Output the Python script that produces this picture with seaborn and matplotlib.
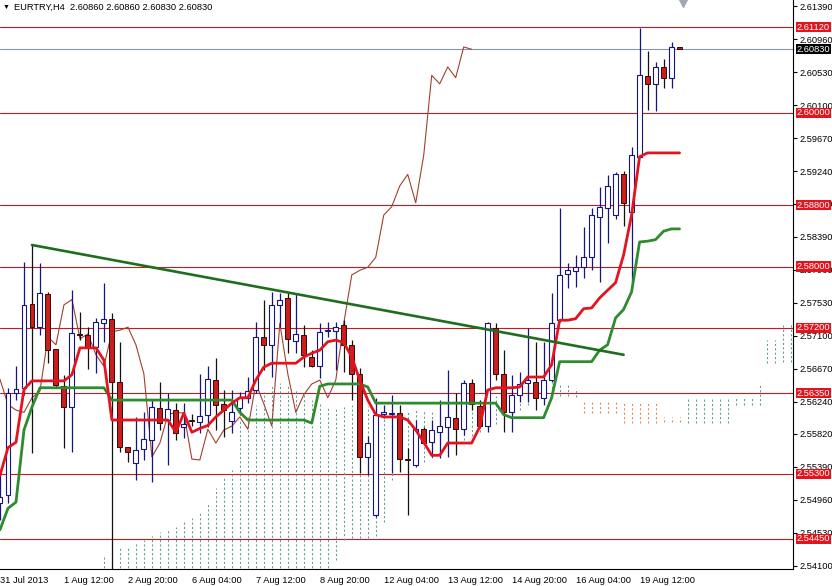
import matplotlib
matplotlib.use("Agg")
import matplotlib.pyplot as plt
import numpy as np
import pandas as pd
import seaborn as sns

# EURTRY H4 candles, numbered from the first bar on screen (31 Jul 2013).
opens = [2.5492, 2.5502, 2.5635, 2.5642, 2.5751, 2.5721, 2.5764, 2.5692, 2.5644, 2.5617,
         2.5712, 2.5711, 2.5695, 2.5726, 2.5732, 2.5650, 2.5565, 2.5544, 2.5562, 2.5574,
         2.5616, 2.5600, 2.5613, 2.5591, 2.5600, 2.5597, 2.5607, 2.5652, 2.5621, 2.5599,
         2.5616, 2.5629, 2.5639, 2.5708, 2.5698, 2.5750, 2.5759, 2.5703, 2.5711, 2.5682,
         2.5670, 2.5716, 2.5716, 2.5724, 2.5698, 2.5660, 2.5552, 2.5476, 2.5608, 2.5608,
         2.5609, 2.5549, 2.5541, 2.5588, 2.5571, 2.5584, 2.5591, 2.5603, 2.5588, 2.5648,
         2.5618, 2.5592, 2.5720, 2.5660, 2.5610, 2.5633, 2.5648, 2.5650, 2.5629, 2.5652,
         2.5730, 2.5790, 2.5794, 2.5799, 2.5812, 2.5865, 2.5876, 2.5867, 2.5920, 2.5871,
         2.5943, 2.6048, 2.6038, 2.6060, 2.6046, 2.6086]
highs = [2.5535, 2.5642, 2.5670, 2.5806, 2.5828, 2.5804, 2.5767, 2.5692, 2.5659, 2.5770,
         2.5741, 2.5721, 2.5733, 2.5779, 2.5739, 2.5701, 2.5565, 2.5604, 2.5610, 2.5626,
         2.5650, 2.5635, 2.5622, 2.5622, 2.5608, 2.5660, 2.5670, 2.5681, 2.5639, 2.5639,
         2.5636, 2.5656, 2.5728, 2.5756, 2.5767, 2.5766, 2.5767, 2.5766, 2.5724, 2.5691,
         2.5726, 2.5728, 2.5728, 2.5730, 2.5704, 2.5668, 2.5579, 2.5629, 2.5620, 2.5633,
         2.5620, 2.5564, 2.5600, 2.5591, 2.5600, 2.5626, 2.5665, 2.5635, 2.5652, 2.5653,
         2.5626, 2.5728, 2.5726, 2.5691, 2.5659, 2.5663, 2.5720, 2.5701, 2.5702, 2.5766,
         2.5876, 2.5804, 2.5815, 2.5852, 2.5876, 2.5904, 2.5919, 2.5923, 2.5924, 2.5956,
         2.6111, 2.6081, 2.6066, 2.6070, 2.6092, 2.6086]
lows = [2.5470, 2.5492, 2.5626, 2.5633, 2.5557, 2.5711, 2.5674, 2.5643, 2.5564, 2.5558,
        2.5704, 2.5666, 2.5661, 2.5701, 2.5395, 2.5558, 2.5545, 2.5522, 2.5548, 2.5519,
        2.5587, 2.5541, 2.5574, 2.5577, 2.5592, 2.5583, 2.5591, 2.5587, 2.5578, 2.5583,
        2.5607, 2.5622, 2.5635, 2.5665, 2.5656, 2.5721, 2.5687, 2.5687, 2.5669, 2.5669,
        2.5655, 2.5708, 2.5665, 2.5663, 2.5626, 2.5531, 2.5528, 2.5474, 2.5603, 2.5531,
        2.5532, 2.5476, 2.5539, 2.5569, 2.5552, 2.5550, 2.5552, 2.5554, 2.5580, 2.5613,
        2.5589, 2.5584, 2.5652, 2.5584, 2.5584, 2.5623, 2.5623, 2.5613, 2.5620, 2.5650,
        2.5728, 2.5772, 2.5773, 2.5785, 2.5795, 2.5780, 2.5831, 2.5862, 2.5853, 2.5780,
        2.5943, 2.6004, 2.6003, 2.6033, 2.6033, 2.6083]
closes = [2.5500, 2.5635, 2.5640, 2.5750, 2.5721, 2.5766, 2.5691, 2.5646, 2.5617, 2.5713,
          2.5711, 2.5694, 2.5728, 2.5732, 2.5650, 2.5565, 2.5558, 2.5561, 2.5575, 2.5617,
          2.5596, 2.5614, 2.5583, 2.5595, 2.5599, 2.5605, 2.5653, 2.5620, 2.5613, 2.5610,
          2.5629, 2.5638, 2.5708, 2.5698, 2.5750, 2.5757, 2.5706, 2.5712, 2.5685, 2.5670,
          2.5715, 2.5717, 2.5721, 2.5698, 2.5660, 2.5552, 2.5570, 2.5607, 2.5610, 2.5609,
          2.5549, 2.5548, 2.5588, 2.5570, 2.5587, 2.5592, 2.5604, 2.5588, 2.5648, 2.5621,
          2.5592, 2.5726, 2.5660, 2.5610, 2.5633, 2.5647, 2.5652, 2.5629, 2.5652, 2.5726,
          2.5789, 2.5795, 2.5799, 2.5812, 2.5867, 2.5878, 2.5905, 2.5920, 2.5883, 2.5945,
          2.6049, 2.6038, 2.6060, 2.6046, 2.6086, 2.6083]

# Ichimoku lines
tenkan = [2.5528, 2.5564, 2.5571, 2.5640, 2.5651, 2.5651, 2.5651, 2.5651, 2.5651, 2.5659,
          2.5694, 2.5694, 2.5694, 2.5678, 2.5600, 2.5600, 2.5600, 2.5600, 2.5600, 2.5600,
          2.5600, 2.5600, 2.5584, 2.5609, 2.5584, 2.5589, 2.5593, 2.5604, 2.5613, 2.5622,
          2.5629, 2.5629, 2.5652, 2.5669, 2.5674, 2.5674, 2.5674, 2.5674, 2.5682, 2.5687,
          2.5691, 2.5702, 2.5704, 2.5701, 2.5682, 2.5652, 2.5626, 2.5607, 2.5604, 2.5604,
          2.5604, 2.5600, 2.5587, 2.5571, 2.5554, 2.5554, 2.5570, 2.5570, 2.5570, 2.5570,
          2.5591, 2.5639, 2.5642, 2.5642, 2.5642, 2.5643, 2.5656, 2.5656, 2.5656, 2.5672,
          2.5730, 2.5730, 2.5732, 2.5745, 2.5746, 2.5759, 2.5769, 2.5779, 2.5815, 2.5867,
          2.5943, 2.5948, 2.5948, 2.5948, 2.5948, 2.5948]
kijun = [2.5457, 2.5485, 2.5493, 2.5587, 2.5617, 2.5642, 2.5642, 2.5642, 2.5642, 2.5642,
         2.5642, 2.5642, 2.5642, 2.5642, 2.5626, 2.5626, 2.5626, 2.5626, 2.5626, 2.5626,
         2.5626, 2.5626, 2.5626, 2.5626, 2.5626, 2.5626, 2.5626, 2.5626, 2.5626, 2.5626,
         2.5610, 2.5600, 2.5600, 2.5600, 2.5600, 2.5600, 2.5600, 2.5600, 2.5600, 2.5596,
         2.5644, 2.5647, 2.5647, 2.5647, 2.5647, 2.5647, 2.5643, 2.5622, 2.5622, 2.5622,
         2.5622, 2.5622, 2.5622, 2.5622, 2.5622, 2.5622, 2.5622, 2.5622, 2.5622, 2.5622,
         2.5622, 2.5622, 2.5622, 2.5607, 2.5603, 2.5603, 2.5603, 2.5603, 2.5603, 2.5629,
         2.5676, 2.5676, 2.5676, 2.5676, 2.5676, 2.5691, 2.5698, 2.5733, 2.5744, 2.5767,
         2.5832, 2.5833, 2.5835, 2.5846, 2.5849, 2.5849]
chikou_shift = 26

# Senkou spans (already shifted forward), starting under bar 13
cloud_start = 13
span_a = [2.5424, 2.5428, 2.5433, 2.5436, 2.5440, 2.5444, 2.5449, 2.5454, 2.5457, 2.5461,
          2.5467, 2.5472, 2.5480, 2.5492, 2.5511, 2.5527, 2.5535, 2.5600, 2.5607, 2.5620,
          2.5636, 2.5646, 2.5648, 2.5644, 2.5639, 2.5633, 2.5626, 2.5621, 2.5618, 2.5616,
          2.5617, 2.5620, 2.5620, 2.5618, 2.5617, 2.5613, 2.5610, 2.5612, 2.5613, 2.5613,
          2.5613, 2.5613, 2.5614, 2.5616, 2.5617, 2.5620, 2.5622, 2.5626, 2.5629, 2.5631,
          2.5634, 2.5639, 2.5644, 2.5647, 2.5648, 2.5648, 2.5648, 2.5647, 2.5646, 2.5642,
          2.5609, 2.5609, 2.5609, 2.5609, 2.5609, 2.5596, 2.5596, 2.5596, 2.5596, 2.5596,
          2.5597, 2.5597, 2.5597, 2.5630, 2.5630, 2.5630, 2.5630, 2.5630, 2.5630, 2.5630,
          2.5630, 2.5630, 2.5648, 2.5704, 2.5704, 2.5724, 2.5726]
span_b = [2.5390, 2.5390, 2.5390, 2.5390, 2.5390, 2.5390, 2.5390, 2.5390, 2.5390, 2.5390,
          2.5390, 2.5390, 2.5390, 2.5390, 2.5390, 2.5390, 2.5390, 2.5390, 2.5390, 2.5390,
          2.5390, 2.5390, 2.5390, 2.5390, 2.5390, 2.5390, 2.5390, 2.5390, 2.5390, 2.5418,
          2.5444, 2.5446, 2.5446, 2.5446, 2.5449, 2.5467, 2.5522, 2.5535, 2.5539, 2.5541,
          2.5545, 2.5550, 2.5554, 2.5561, 2.5567, 2.5574, 2.5579, 2.5584, 2.5589, 2.5595,
          2.5600, 2.5607, 2.5613, 2.5620, 2.5626, 2.5629, 2.5630, 2.5631, 2.5631, 2.5630,
          2.5626, 2.5626, 2.5626, 2.5626, 2.5626, 2.5622, 2.5622, 2.5622, 2.5622, 2.5622,
          2.5604, 2.5604, 2.5604, 2.5596, 2.5596, 2.5596, 2.5596, 2.5596, 2.5596, 2.5620,
          2.5620, 2.5620, 2.5620, 2.5674, 2.5674, 2.5675, 2.5675]

# Hand-drawn trend line (bar, price) and horizontal levels
trend_bars = [4, 78]
trend_prices = [2.5828, 2.5685]
levels = [2.6112, 2.6000, 2.5880, 2.5800, 2.5720, 2.5635, 2.5530, 2.5445]
last_price = 2.6083

price_ticks = [2.61390, 2.60960, 2.60530, 2.60100, 2.59670, 2.59240, 2.58820, 2.58390,
               2.57960, 2.57530, 2.57100, 2.56670, 2.56240, 2.55820, 2.55390, 2.54960,
               2.54530, 2.54100]
date_ticks = [0, 8, 16, 24, 32, 40, 48, 56, 64, 72, 80]
date_labels = ["31 Jul 2013", "1 Aug 12:00", "2 Aug 20:00", "6 Aug 04:00", "7 Aug 12:00",
               "8 Aug 20:00", "12 Aug 04:00", "13 Aug 12:00", "14 Aug 20:00",
               "16 Aug 04:00", "19 Aug 12:00"]

sns.set_style("white")
plt.rcParams["font.family"] = ["Liberation Sans", "DejaVu Sans"]
FS = 6.7

bars = pd.DataFrame({"bar": np.arange(len(opens)), "open": opens, "high": highs,
                     "low": lows, "close": closes, "tenkan": tenkan, "kijun": kijun})
bull = bars["close"] >= bars["open"]

fig = plt.figure(figsize=(8.32, 5.86), dpi=100)
ax = fig.add_axes([0, 17 / 586, 793 / 832, 569 / 586])
ax.set_xlim(0.0625, 99.19)
ax.set_ylim(2.54059, 2.61472)

# horizontal levels
for lv in levels:
    ax.axhline(lv, color="#c81820", lw=0.8, zorder=1)
ax.axhline(last_price, color="#8796a6", lw=0.8, zorder=1)

# cloud, drawn as dotted vertical strokes
cloud_x = np.arange(cloud_start, cloud_start + len(span_a))
sa = np.array(span_a)
sb = np.array(span_b)
up = sa >= sb
ax.vlines(cloud_x[up], np.minimum(sa, sb)[up], np.maximum(sa, sb)[up],
          colors="#5f9c98", lw=0.75, linestyles=(0, (2, 2.2)), zorder=1.5)
ax.vlines(cloud_x[~up], np.minimum(sa, sb)[~up], np.maximum(sa, sb)[~up],
          colors="#e8874f", lw=0.75, linestyles=(0, (2, 2.2)), zorder=1.5)

# chikou span: closes plotted 26 bars back
chikou = pd.DataFrame({"bar": bars["bar"][:-chikou_shift].values,
                       "price": bars["close"][chikou_shift:].values})
sns.lineplot(data=chikou, x="bar", y="price", color="#a2402f", lw=0.8, ax=ax, zorder=2)

# candles
wick_col = np.where(bull, "#15157f", "#111111")
ax.vlines(bars["bar"], bars["low"], bars["high"], colors=wick_col, lw=0.9, zorder=3)
ax.bar(bars["bar"][bull], (bars["close"] - bars["open"])[bull], bottom=bars["open"][bull],
       width=0.62, color="white", edgecolor="#15157f", linewidth=0.8, zorder=3.2)
ax.bar(bars["bar"][~bull], (bars["close"] - bars["open"])[~bull], bottom=bars["open"][~bull],
       width=0.62, color="#c81e1e", edgecolor="#3a0808", linewidth=0.7, zorder=3.2)

# tenkan / kijun
sns.lineplot(data=bars, x="bar", y="kijun", color="#2e8b2e", lw=2.0, ax=ax, zorder=4)
sns.lineplot(data=bars, x="bar", y="tenkan", color="#e3141e", lw=2.0, ax=ax, zorder=4.2)

# trend line
trend = pd.DataFrame({"bar": trend_bars, "price": trend_prices})
sns.lineplot(data=trend, x="bar", y="price", color="#1f6d1f", lw=1.9, ax=ax, zorder=5)

# axes cosmetics
for side in ["top", "left"]:
    ax.spines[side].set_visible(False)
for side in ["right", "bottom"]:
    ax.spines[side].set_color("black")
    ax.spines[side].set_linewidth(0.8)
ax.set_xlabel("")
ax.set_ylabel("")
ax.grid(False)

ax.yaxis.tick_right()
ax.set_yticks(price_ticks, [f"{v:.5f}" for v in price_ticks])
ax.tick_params(axis="y", length=3, width=0.8, pad=2.0, labelsize=FS, colors="black")
ax.set_xticks(date_ticks, date_labels)
for lbl in ax.get_xticklabels():
    lbl.set_ha("left")
ax.tick_params(axis="x", length=3.5, width=0.8, pad=1.2, labelsize=FS, colors="black")


def price_box(value, face):
    ax.annotate(f"{value:.5f}", xy=(1, value), xycoords=("axes fraction", "data"),
                xytext=(4, 0), textcoords="offset pixels", ha="left", va="center",
                color="white", fontsize=FS, annotation_clip=False, zorder=10,
                bbox=dict(boxstyle="square,pad=0.06", fc=face, ec="none"))


for lv in levels:
    price_box(lv, "#e3141e")
price_box(last_price, "black")

# chart-shift marker at the top
ax.plot([0.8613], [0.996], marker="v", ms=7, color="#a3a9b0", transform=ax.transAxes,
        clip_on=False, zorder=10)

fig.text(3 / 832, 1 - 7.5 / 586, "\u25bc", fontsize=5, va="center", color="black")
fig.text(14 / 832, 1 - 7.5 / 586, "EURTRY,H4  2.60860 2.60860 2.60830 2.60830",
         fontsize=FS, va="center", color="black")

fig.savefig("out.png", dpi=100)
